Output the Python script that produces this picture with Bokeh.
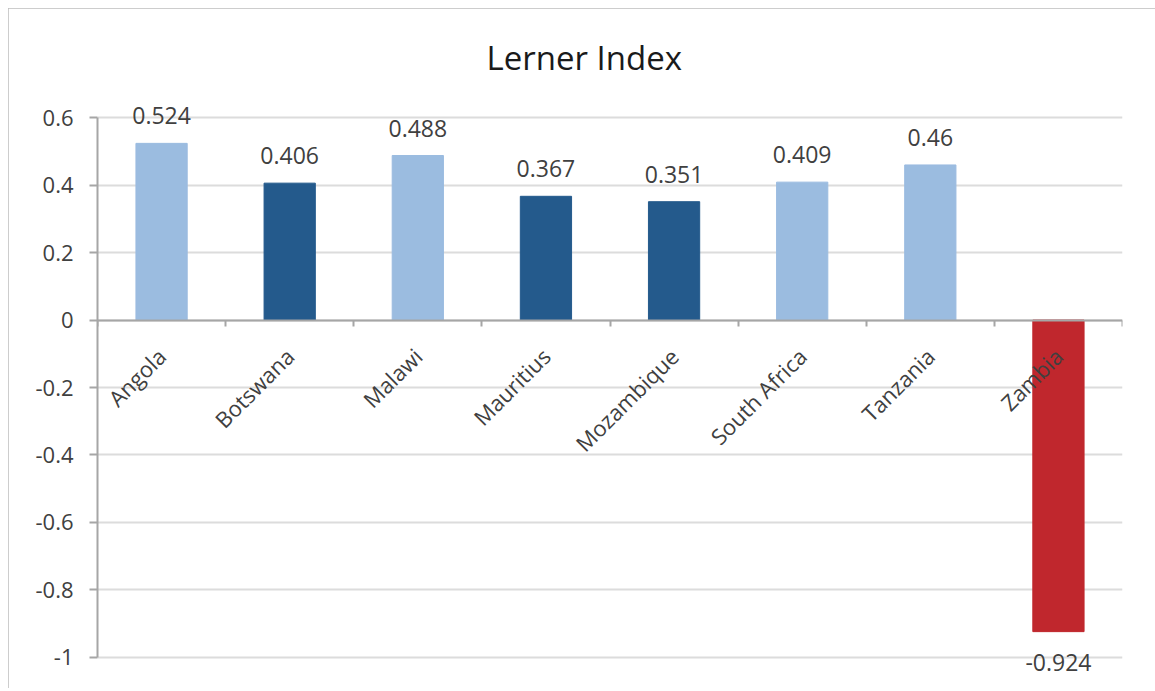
import math
from bokeh.plotting import figure
from bokeh.models import (ColumnDataSource, LabelSet, Range1d,
                          FixedTicker, NumeralTickFormatter)
from bokeh.embed import file_html
from bokeh.resources import INLINE
from bokeh.core.properties import value

# ---- data ----
countries = ["Angola", "Botswana", "Malawi", "Mauritius", "Mozambique",
             "South Africa", "Tanzania", "Zambia"]
lerner = [0.524, 0.406, 0.488, 0.367, 0.351, 0.409, 0.46, -0.924]
bar_colors = ["#9bbce0", "#245a8c", "#9bbce0", "#245a8c", "#245a8c",
              "#9bbce0", "#9bbce0", "#c0272d"]
y_ticks = [-1, -0.8, -0.6, -0.4, -0.2, 0, 0.2, 0.4, 0.6]

FONT = "Open Sans"
TXT = "#404040"
AXC = "#a6a6a6"

n = len(countries)
centers = [i + 0.5 for i in range(n)]
edges = list(range(n + 1))

src = ColumnDataSource(dict(x=centers, y=lerner, color=bar_colors))
pos = ColumnDataSource(dict(x=[c for c, v in zip(centers, lerner) if v >= 0],
                            y=[v for v in lerner if v >= 0],
                            t=[str(v) for v in lerner if v >= 0]))
neg = ColumnDataSource(dict(x=[c for c, v in zip(centers, lerner) if v < 0],
                            y=[v for v in lerner if v < 0],
                            t=[str(v) for v in lerner if v < 0]))

p = figure(x_range=Range1d(0, n), y_range=Range1d(-1.06, 0.66),
           width=1147, height=680, output_backend="svg", toolbar_location=None,
           title="Lerner Index")
p.min_border_left = 89
p.min_border_right = 33
p.min_border_top = 89
p.min_border_bottom = 11
p.outline_line_color = None
p.background_fill_color = "white"
p.border_fill_color = "white"
p.styles = {"margin-left": "8px", "margin-top": "8px",
            "outline": "3px solid #bdbdbd", "outline-offset": "-3px"}

p.vbar(x="x", top="y", bottom=0, width=0.4, color="color", source=src)

# y axis
yax = p.yaxis[0]
yax.ticker = FixedTicker(ticks=y_ticks)
yax.bounds = (min(y_ticks), max(y_ticks))
yax.formatter = NumeralTickFormatter(format="0.[0]")
yax.axis_line_color = AXC
yax.axis_line_width = 2
yax.major_tick_line_color = AXC
yax.major_tick_line_width = 2
yax.major_tick_out = 8
yax.major_tick_in = 0
yax.minor_tick_line_color = None
yax.major_label_standoff = 16
yax.major_label_text_font = FONT
yax.major_label_text_font_size = "22px"
yax.major_label_text_color = TXT

p.ygrid.ticker = FixedTicker(ticks=y_ticks)
p.ygrid.grid_line_color = "#dcdcdc"
p.ygrid.grid_line_width = 2
p.xgrid.visible = False

# category axis at y = 0 (labels at centres, small ticks at category edges)
xax = p.xaxis[0]
xax.fixed_location = 0
xax.ticker = FixedTicker(ticks=centers, minor_ticks=edges)
xax.major_label_overrides = {c: name for c, name in zip(centers, countries)}
xax.axis_line_color = AXC
xax.axis_line_width = 2
xax.major_tick_line_color = None
xax.minor_tick_line_color = AXC
xax.minor_tick_line_width = 2
xax.minor_tick_out = 6
xax.minor_tick_in = 0
xax.major_label_orientation = math.pi / 4
xax.major_label_standoff = 26
xax.major_label_text_font = FONT
xax.major_label_text_font_size = "22px"
xax.major_label_text_color = TXT

# title
p.title.text_font = FONT
p.title.text_font_size = "33px"
p.title.text_font_style = "normal"
p.title.text_color = "#1a1a1a"
p.title.align = "left"
p.title.offset = 389
p.title.standoff = 35

# data labels
p.add_layout(LabelSet(x="x", y="y", text="t", source=pos, text_align="center",
                      text_baseline="bottom", y_offset=19,
                      text_font=value(FONT), text_font_size="23px",
                      text_color=TXT))
p.add_layout(LabelSet(x="x", y="y", text="t", source=neg, text_align="center",
                      text_baseline="top", y_offset=-22,
                      text_font=value(FONT), text_font_size="23px",
                      text_color=TXT))

open("out.html", "w").write(file_html(p, INLINE))
